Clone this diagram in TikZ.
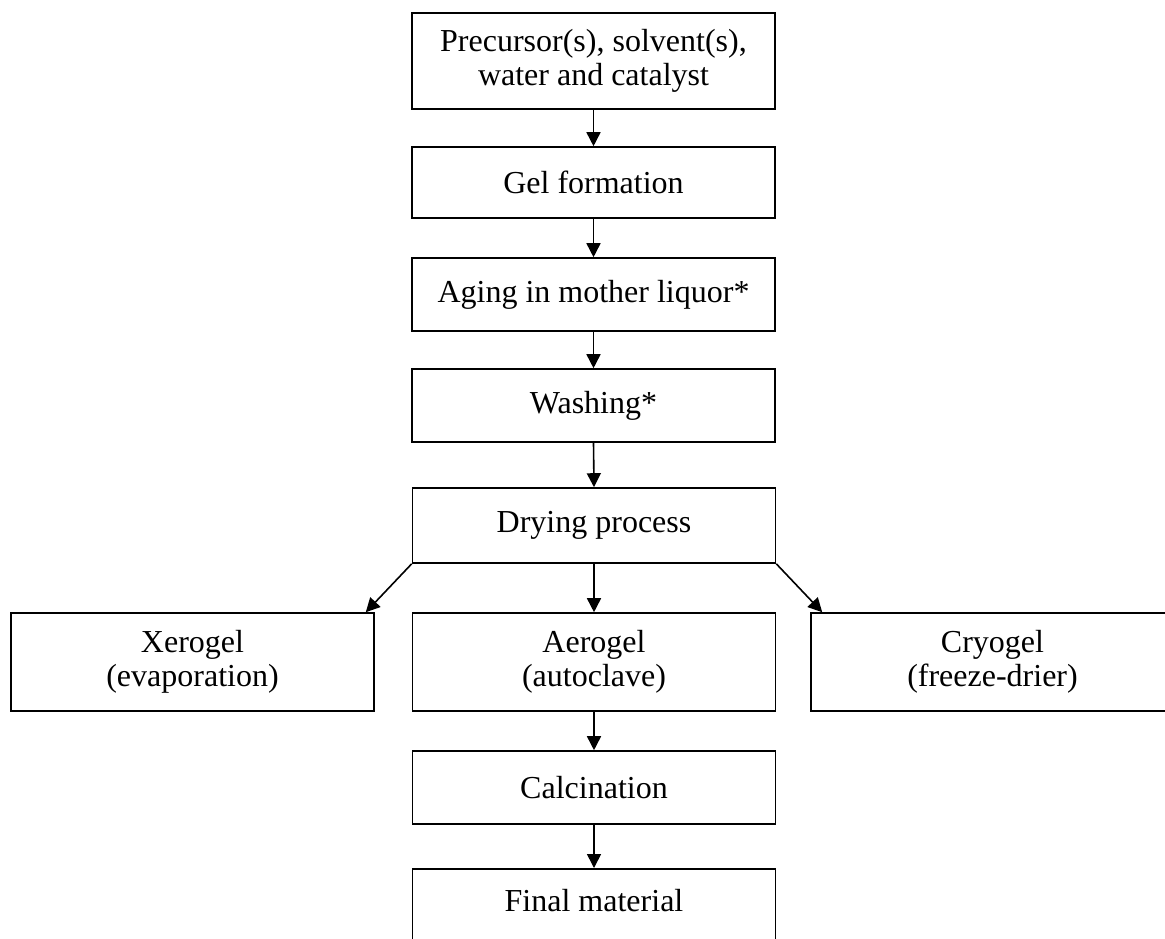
\documentclass[tikz,border=0pt]{standalone}
\usepackage{fontspec}
\setmainfont{Liberation Serif}
\usetikzlibrary{arrows.meta}
\begin{document}
\begin{tikzpicture}[x=1pt,y=-1pt,
  stepbox/.style={draw, line width=1.6pt, inner sep=0pt, align=center,
    minimum width=363pt, font=\fontsize{32}{34}\selectfont},
  arr/.style={line width=1.6pt, -{Triangle[length=14pt,width=14pt]}}]
\useasboundingbox[fill=white] (0,0) rectangle (1165,938);
\node[stepbox, minimum height=96pt] (b1) at (593.5,61) {Precursor(s), solvent(s),\\water and catalyst};
\node[stepbox, minimum height=71pt] (gel) at (593.5,182.5) {Gel formation};
\node[stepbox, minimum height=73pt] (aging) at (593.5,294.5) {Aging in mother liquor*};
\node[stepbox, minimum height=73pt] (wash) at (593.5,405.5) {Washing*};
\node[stepbox, minimum height=75pt] (dry) at (594,525.5) {Drying process};
\node[stepbox, minimum height=98pt] (xero) at (192.5,662) {Xerogel\\(evaporation)};
\node[stepbox, minimum height=98pt] (aero) at (594,662) {Aerogel\\(autoclave)};
\node[stepbox, minimum height=98pt] (cryo) at (992.5,662) {Cryogel\\(freeze-drier)};
\node[stepbox, minimum height=73pt] (calc) at (594,787.5) {Calcination};
\node[stepbox, minimum height=142pt, text height=22pt, text depth=78pt, anchor=north] (final) at (594,868) {Final material};
\draw[arr] (b1.south) -- (gel.north);
\draw[arr] (gel.south) -- (aging.north);
\draw[arr] (aging.south) -- (wash.north);
\draw[arr] (wash.south) -- (dry.north);
\draw[arr] (dry.south) -- (aero.north);
\draw[arr] (dry.south west) -- ([xshift=-9pt]xero.north east);
\draw[arr] (dry.south east) -- ([xshift=12pt]cryo.north west);
\draw[arr] (aero.south) -- (calc.north);
\draw[arr] (calc.south) -- (final.north);
\end{tikzpicture}
\end{document}
